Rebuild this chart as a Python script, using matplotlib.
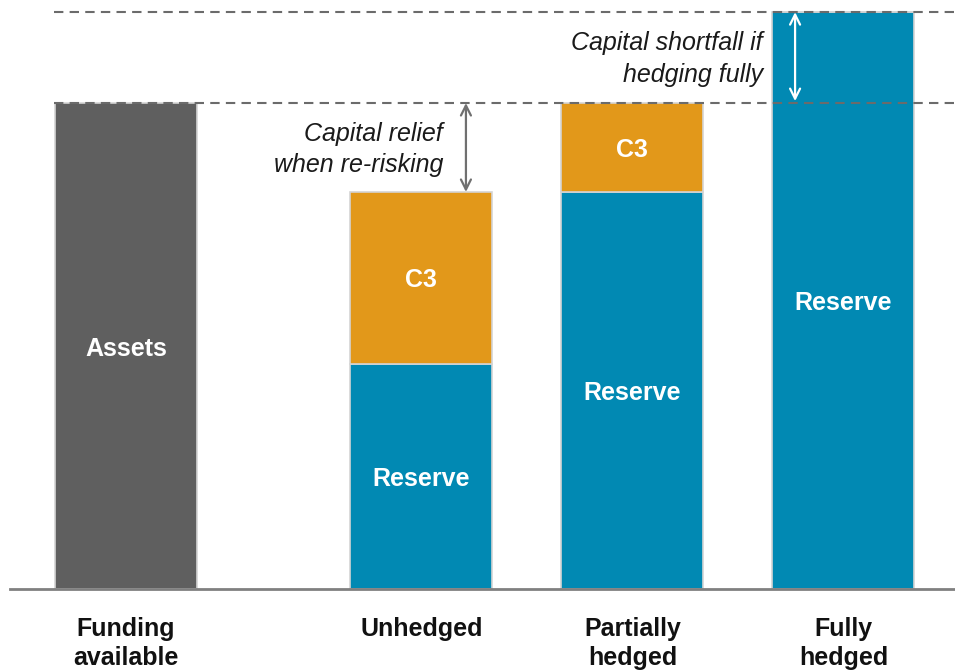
import matplotlib
matplotlib.use("Agg")
import matplotlib.pyplot as plt

plt.rcParams['font.family'] = ['Liberation Sans', 'DejaVu Sans']

categories = ["Funding\navailable", "Unhedged", "Partially\nhedged", "Fully\nhedged"]
positions = [0, 1.4, 2.4, 3.4]
assets = [100, 0, 0, 0]
reserve = [0, 46.3, 81.7, 118.7]
c3 = [0, 35.4, 18.3, 0]

GRAY = '#5f5f5f'
TEAL = '#0189b3'
ORANGE = '#e2981a'
EDGE = '#d4d4d4'
LINE = '#6b6b6b'

fig = plt.figure(figsize=(9.55, 6.72), dpi=100)
ax = fig.add_axes([10 / 955, 83 / 672, 945 / 955, 589 / 672])
ax.set_xlim(-0.55, 3.929)
ax.set_ylim(0, 121.2)

width = 0.673
ax.bar(positions, assets, width, color=GRAY, edgecolor=EDGE, linewidth=1.2)
ax.bar(positions, reserve, width, color=TEAL, edgecolor=EDGE, linewidth=1.2)
ax.bar(positions, c3, width, bottom=reserve, color=ORANGE, edgecolor=EDGE, linewidth=1.2)

# segment labels
lab = dict(color='white', fontsize=18, fontweight='bold', ha='center', va='center_baseline')
for x, a, r, c in zip(positions, assets, reserve, c3):
    if a:
        ax.text(x, a / 2, "Assets", **lab)
    if r:
        ax.text(x, r / 2, "Reserve", **lab)
    if c:
        ax.text(x, r + c / 2, "C3", **lab)

# dashed reference lines
top_full = reserve[3]
for yv in (assets[0], top_full):
    ax.plot([-0.34, 3.929], [yv, yv], color=LINE, lw=1.5, dashes=(4.5, 3), zorder=5)

# arrows
unhedged_top = reserve[1] + c3[1]
ax.annotate("", xy=(1.611, unhedged_top), xytext=(1.611, assets[0]),
            arrowprops=dict(arrowstyle='<->', color='#707070', lw=1.6,
                            shrinkA=0, shrinkB=0, mutation_scale=18))
ax.annotate("", xy=(3.171, assets[0] + 0.4), xytext=(3.171, top_full),
            arrowprops=dict(arrowstyle='<->', color='white', lw=1.6,
                            shrinkA=0, shrinkB=0, mutation_scale=18), zorder=6)

ax.text(1.502, 90.4, "Capital relief\nwhen re-risking", ha='right', va='center',
        fontsize=18, style='italic', color='#1a1a1a', linespacing=1.4)
ax.text(3.019, 109.0, "Capital shortfall if\nhedging fully", ha='right', va='center',
        fontsize=18, style='italic', color='#1a1a1a', linespacing=1.4)

ax.set_xticks(positions)
ax.set_xticklabels(categories, fontsize=18, fontweight='bold', color='#111111',
                   linespacing=1.3)
ax.tick_params(axis='x', length=0, pad=20)
ax.set_yticks([])
for s in ('top', 'right', 'left'):
    ax.spines[s].set_visible(False)
ax.spines['bottom'].set_color('#808080')
ax.spines['bottom'].set_linewidth(2)

fig.savefig("out.png", dpi=100)
